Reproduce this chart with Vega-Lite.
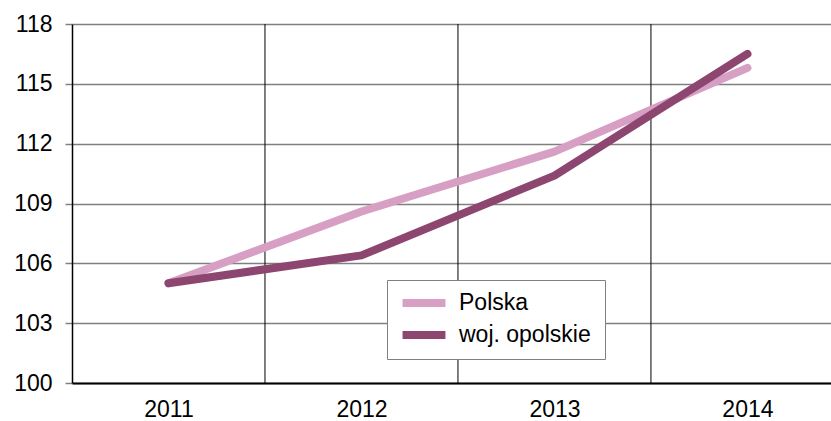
{
  "$schema": "https://vega.github.io/schema/vega-lite/v6.json",
  "autosize": {"type": "none"},
  "width": 759,
  "height": 359,
  "padding": {"left": 72, "top": 24, "right": 0, "bottom": 38},
  "background": "white",
  "config": {
    "font": "Liberation Sans",
    "view": {"stroke": null}
  },
  "layer": [
    {
      "data": {"values": [{"g": 2011.5}, {"g": 2012.5}, {"g": 2013.5}]},
      "mark": {"type": "rule", "color": "#000000", "strokeWidth": 1},
      "encoding": {
        "x": {
          "field": "g", "type": "quantitative",
          "scale": {"domain": [2010.5, 2014.433], "nice": false, "zero": false},
          "axis": {
            "values": [2011, 2012, 2013, 2014], "format": "d", "title": null,
            "grid": false, "ticks": false, "domainColor": "#000000", "domainWidth": 2,
            "labelFontSize": 23, "labelColor": "#000000", "labelPadding": 15, "labelFlush": false
          }
        }
      }
    },
    {
      "data": {"values": [
        {"year": 2011, "series": "Polska", "value": 105.0},
        {"year": 2012, "series": "Polska", "value": 108.6},
        {"year": 2013, "series": "Polska", "value": 111.6},
        {"year": 2014, "series": "Polska", "value": 115.8},
        {"year": 2011, "series": "woj. opolskie", "value": 105.0},
        {"year": 2012, "series": "woj. opolskie", "value": 106.4},
        {"year": 2013, "series": "woj. opolskie", "value": 110.4},
        {"year": 2014, "series": "woj. opolskie", "value": 116.5}
      ]},
      "mark": {"type": "line", "strokeWidth": 8, "strokeCap": "round", "strokeJoin": "round"},
      "encoding": {
        "x": {
          "field": "year", "type": "quantitative",
          "scale": {"domain": [2010.5, 2014.433], "nice": false, "zero": false},
          "axis": {
            "values": [2011, 2012, 2013, 2014], "format": "d", "title": null,
            "grid": false, "ticks": false, "domainColor": "#000000", "domainWidth": 2,
            "labelFontSize": 23, "labelColor": "#000000", "labelPadding": 15, "labelFlush": false
          }
        },
        "y": {
          "field": "value", "type": "quantitative",
          "scale": {"domain": [100, 118], "nice": false, "zero": false},
          "axis": {
            "values": [100, 103, 106, 109, 112, 115, 118], "title": null,
            "grid": true, "gridColor": "#808080", "gridWidth": 1.5, "gridOpacity": 1,
            "ticks": true, "tickSize": 7, "tickColor": "#808080", "tickWidth": 1.5,
            "domainColor": "#000000", "domainWidth": 1.5,
            "labelFontSize": 23, "labelColor": "#000000", "labelPadding": 13
          }
        },
        "color": {
          "field": "series", "type": "nominal",
          "scale": {"domain": ["Polska", "woj. opolskie"], "range": ["#d69fc3", "#8c4670"]},
          "legend": {
            "title": "\u2007", "titleOrient": "right", "titlePadding": 6, "titleFontSize": 23,
            "orient": "none", "legendX": 315, "legendY": 256,
            "symbolType": "M-1.95,0H1.95", "symbolSize": 484, "symbolStrokeWidth": 8,
            "symbolOffset": 14,
            "labelFontSize": 23, "labelColor": "#000000", "labelOffset": 20,
            "strokeColor": "#808080", "fillColor": "#ffffff", "padding": 8,
            "rowPadding": 0
          }
        }
      }
    }
  ]
}
